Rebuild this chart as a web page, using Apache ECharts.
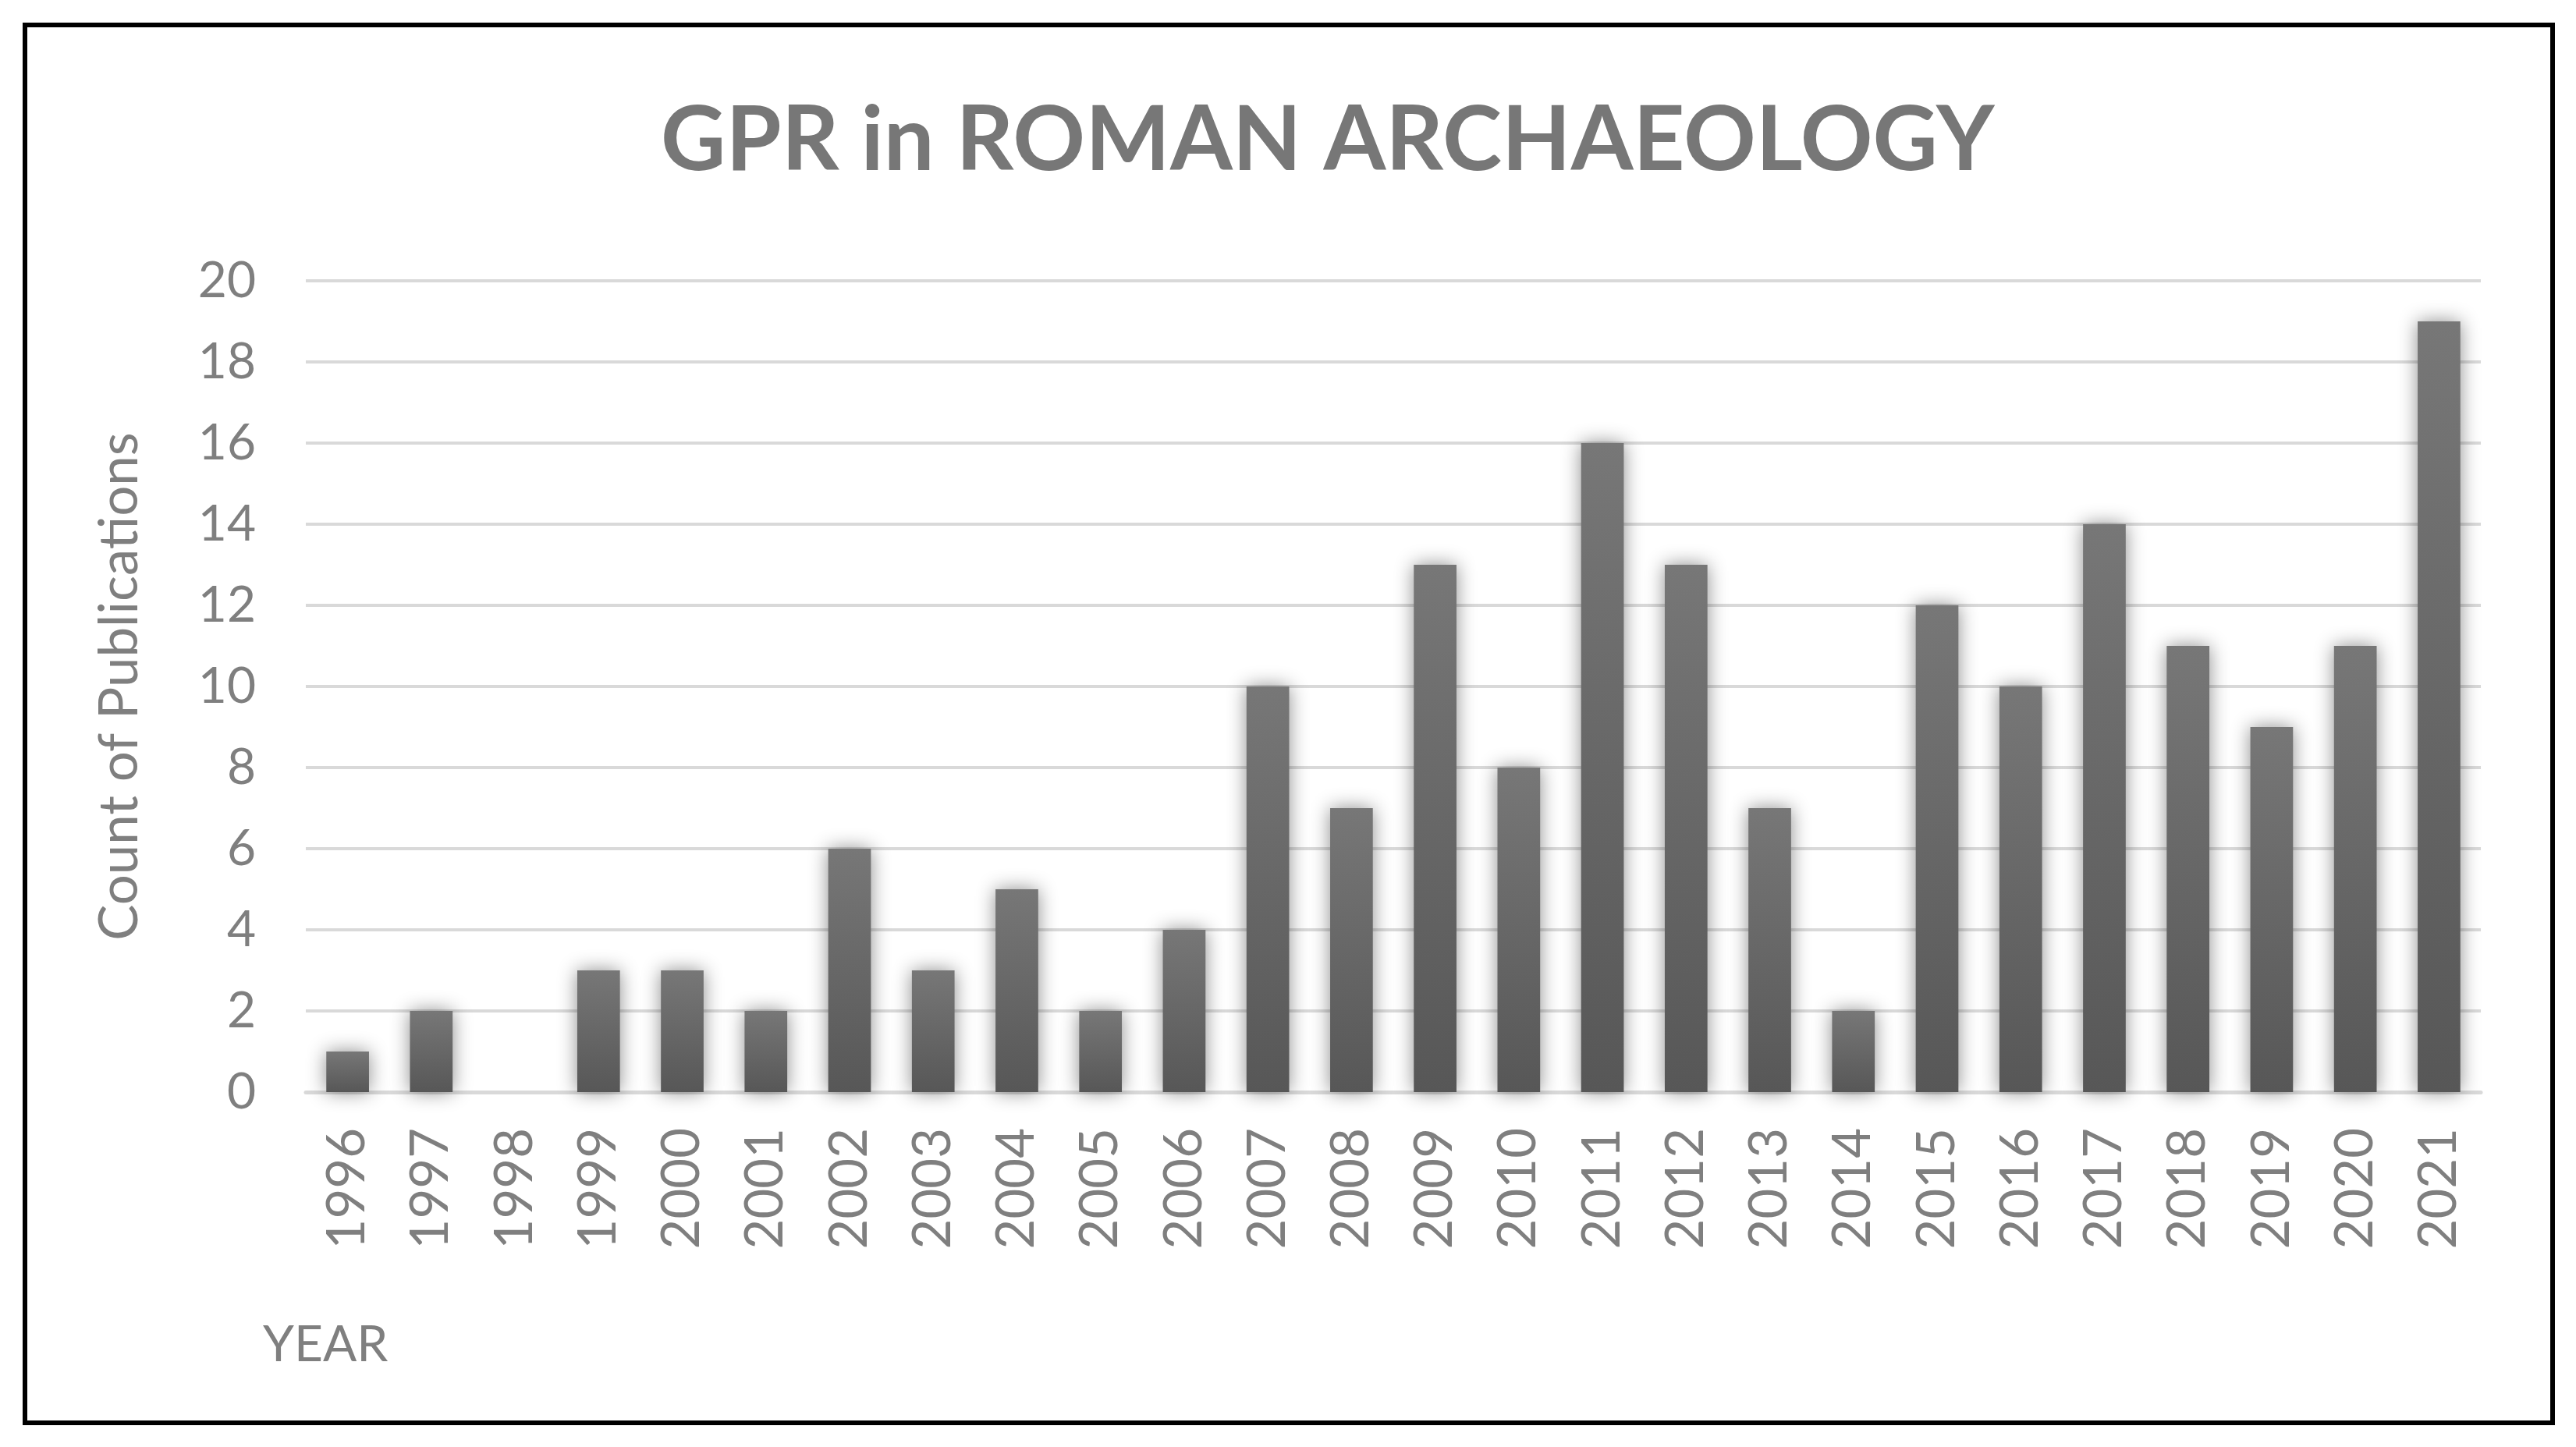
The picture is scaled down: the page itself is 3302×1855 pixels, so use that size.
<!DOCTYPE html>
<html>
<head>
<meta charset="utf-8">
<script src="https://cdn.jsdelivr.net/npm/echarts@6/dist/echarts.min.js"></script>
<style>
  html, body { margin: 0; padding: 0; background: #fff; }
  #main { width: 3302px; height: 1855px; }
</style>
</head>
<body>
<div id="main"></div>
<script>
  // years on the x axis and publication counts per year
  var years = ['1996','1997','1998','1999','2000','2001','2002','2003','2004','2005','2006','2007','2008',
               '2009','2010','2011','2012','2013','2014','2015','2016','2017','2018','2019','2020','2021'];
  var counts = [1, 2, 0, 3, 3, 2, 6, 3, 5, 2, 4, 10, 7, 13, 8, 16, 13, 7, 2, 12, 10, 14, 11, 9, 11, 19];
  var yTicks = [0, 20, 2]; // min, max, interval

  var textGray = '#7f7f7f';
  var font = 'Lato, "Open Sans", sans-serif';

  var chart = echarts.init(document.getElementById('main'));
  chart.setOption({
    backgroundColor: '#fff',
    title: {
      text: 'GPR in ROMAN ARCHAEOLOGY',
      left: 842,
      top: 118,
      textStyle: { color: '#777', fontFamily: font, fontWeight: 'bold', fontSize: 115 }
    },
    graphic: [
      {
        type: 'rect',
        shape: { x: 32, y: 32, width: 3240, height: 1792 },
        style: { fill: 'none', stroke: '#000', lineWidth: 6 }
      },
      {
        type: 'text',
        left: 337,
        top: 1692,
        style: { text: 'YEAR', fill: textGray, font: '64px ' + font }
      }
    ],
    grid: { left: 392, right: 122, top: 360, bottom: 455 },
    xAxis: {
      type: 'category',
      data: years,
      axisLine: { lineStyle: { color: '#d9d9d9', width: 5 } },
      axisTick: { show: false },
      axisLabel: { rotate: 90, margin: 46, color: textGray, fontFamily: font, fontSize: 67 }
    },
    yAxis: {
      type: 'value',
      min: yTicks[0],
      max: yTicks[1],
      interval: yTicks[2],
      name: 'Count of Publications',
      nameLocation: 'middle',
      nameRotate: 90,
      nameGap: 204,
      nameTextStyle: { color: textGray, fontFamily: font, fontSize: 69 },
      axisLine: { show: false },
      axisTick: { show: false },
      splitLine: { lineStyle: { color: '#d9d9d9', width: 4 } },
      axisLabel: { margin: 64, color: textGray, fontFamily: font, fontSize: 64 }
    },
    series: [{
      type: 'bar',
      data: counts,
      barCategoryGap: '49%',
      itemStyle: {
        color: new echarts.graphic.LinearGradient(0, 0, 0, 1, [
          { offset: 0, color: '#777777' },
          { offset: 1, color: '#575757' }
        ]),
        shadowBlur: 24,
        shadowColor: 'rgba(0,0,0,0.45)'
      }
    }]
  });
</script>
</body>
</html>
